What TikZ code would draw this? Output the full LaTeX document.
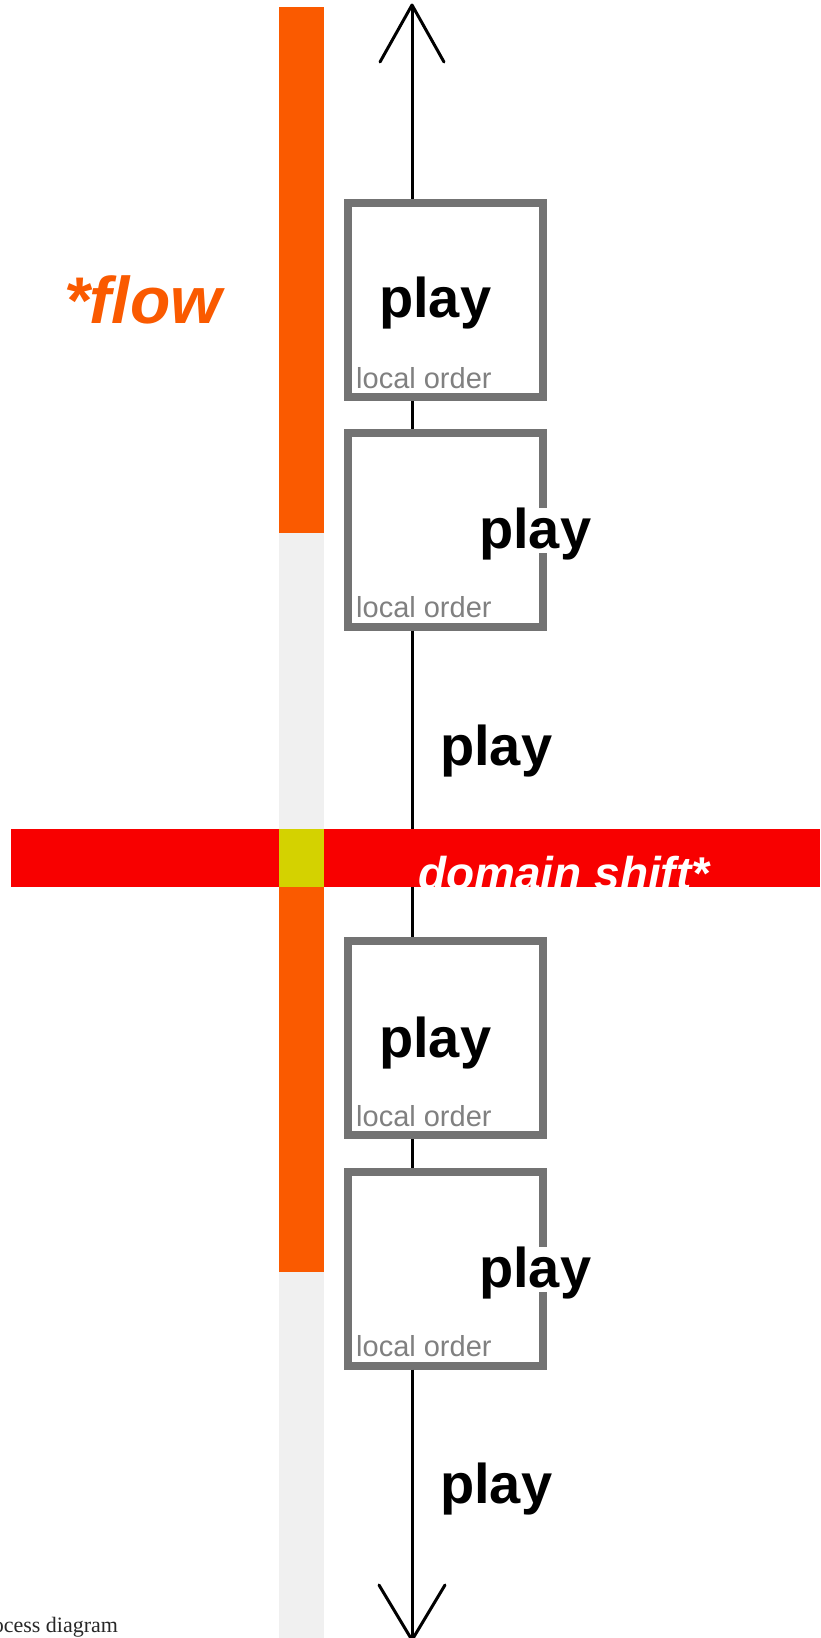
\documentclass[tikz,border=0pt]{standalone}
\usepackage{fontspec}
\setmainfont{Liberation Sans}
\newfontfamily\capfont{Liberation Serif}
\definecolor{flowor}{RGB}{250,90,0}
\definecolor{lightbar}{RGB}{240,240,240}
\definecolor{boxgray}{RGB}{115,115,115}
\definecolor{ordergray}{RGB}{128,128,128}
\definecolor{bandred}{RGB}{248,0,0}
\definecolor{crossyel}{RGB}{212,210,0}
\definecolor{capgray}{RGB}{40,40,40}
\begin{document}
\begin{tikzpicture}[x=1pt,y=-1pt,
  barorange/.style={fill=flowor},
  barlight/.style={fill=lightbar},
  stagebox/.style={draw=boxgray, line width=8pt, fill=white,
     minimum width=195pt, minimum height=194pt, inner sep=0pt},
  playlabel/.style={font=\bfseries\fontsize{56}{60}\selectfont, text=black, fill=white,
     inner sep=0pt, text height=40pt, text depth=5pt, anchor=base west},
  orderlabel/.style={font=\fontsize{29}{32}\selectfont, text=ordergray,
     inner sep=0pt, anchor=base west},
  flowline/.style={draw=black, line width=3pt},
  armline/.style={draw=black, line width=3pt, line join=round, line cap=round}
]
\clip (0,0) rectangle (820,1638);
\fill[white] (0,0) rectangle (820,1638);

% vertical bar
\fill[barorange] (279,7) rectangle (324,533);
\fill[barlight] (279,533) rectangle (324,829);
\fill[barorange] (279,887) rectangle (324,1272);
\fill[barlight] (279,1272) rectangle (324,1638);

% arrow end points
\coordinate (top) at (412,5);
\coordinate (tl) at (380,62);
\coordinate (tr) at (444,62);
\coordinate (bot) at (412,1640);
\coordinate (bl) at (379,1585);
\coordinate (br) at (445,1585);

% boxes
\node[stagebox] (b1) at (445.5,300) {};
\node[stagebox] (b2) at (445.5,529.5) {};
\node[stagebox] (b3) at (445.5,1038) {};
\node[stagebox] (b4) at (445.5,1268.5) {};

% connectors
\draw[flowline] (top) -- (top |- b1.north);
\draw[flowline] (top |- b1.south) -- (top |- b2.north);
\draw[flowline] (top |- b2.south) -- (top |- b3.north);
\draw[flowline] (top |- b3.south) -- (top |- b4.north);
\draw[flowline] (top |- b4.south) -- (bot);
\draw[armline] (tl) -- (top) -- (tr);
\draw[armline] (bl) -- (bot) -- (br);

% labels in boxes
\node[playlabel] (p1) at (379,317) {play};
\node[orderlabel] (o1) at (356,388) {local order};
\node[playlabel] (p2) at (479,548) {play};
\node[orderlabel] (o2) at (356,617) {local order};
\node[playlabel] (p3) at (379,1057) {play};
\node[orderlabel] (o3) at (356,1126) {local order};
\node[playlabel] (p4) at (479,1287) {play};
\node[orderlabel] (o4) at (356,1356) {local order};

% free labels
\node[playlabel] (p5) at (440,765) {play};
\node[playlabel] (p6) at (440,1503) {play};

% domain shift band
\fill[bandred] (11,829) rectangle (820,887);
\fill[crossyel] (279,829) rectangle (324,887);
\node[font=\bfseries\itshape\fontsize{46}{50}\selectfont, text=white, inner sep=0pt, anchor=base west] (ds) at (418,889) {domain shift*};

% flow label
\node[font=\bfseries\itshape\fontsize{66}{70}\selectfont, text=flowor, inner sep=0pt, anchor=base west] (fl) at (64,323) {*flow};

% caption
\node[font=\capfont\fontsize{22}{26}\selectfont, text=capgray, inner sep=0pt, anchor=base west] (cap) at (-27,1632) {Process diagram};
\end{tikzpicture}
\end{document}
